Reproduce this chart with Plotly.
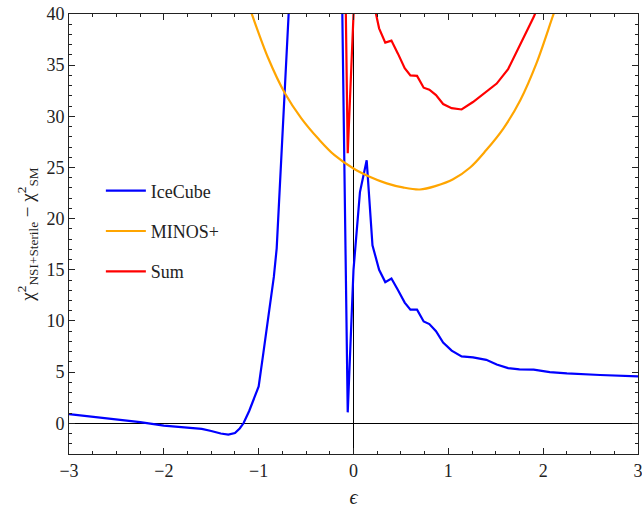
import plotly.graph_objects as go

# IceCube
ice_x = [-3.0, -2.75, -2.5, -2.25, -2.0, -1.75, -1.6, -1.5, -1.4, -1.32, -1.25, -1.2, -1.16,
         -1.1, -1.05, -1.0, -0.95, -0.90, -0.87, -0.84, -0.81, -0.75, -0.72, -0.68, -0.64,
         -0.5, -0.3, -0.18, -0.12, -0.061, 0.0, 0.068, 0.139, 0.20, 0.27, 0.335, 0.40, 0.47,
         0.54, 0.60, 0.67, 0.74, 0.80, 0.87, 0.945, 1.035, 1.14, 1.26, 1.40, 1.51, 1.63, 1.75,
         1.90, 2.07, 2.25, 2.6, 3.0]
ice_y = [0.9, 0.65, 0.38, 0.12, -0.22, -0.42, -0.55, -0.75, -1.0, -1.1, -0.95, -0.5, 0.0,
         1.2, 2.5, 3.6, 6.9, 10.4, 12.1, 14.3, 17.1, 27.7, 32.5, 40.0, 48.0,
         65.0, 70.0, 58.0, 41.5, 1.07, 15.0, 22.6, 25.7, 17.4, 15.0, 13.8, 14.15, 13.0,
         11.8, 11.1, 11.1, 9.95, 9.7, 9.0, 7.9, 7.1, 6.54, 6.44, 6.2, 5.75, 5.4, 5.27,
         5.25, 5.0, 4.88, 4.72, 4.58]

# MINOS+
minos_x = [-1.15, -1.1, -0.9, -0.72, -0.55, -0.37, -0.2, 0.0, 0.17, 0.35, 0.52, 0.70,
           0.87, 1.05, 1.23, 1.40, 1.58, 1.76, 1.93, 2.11, 2.15]
minos_y = [41.9, 40.7, 35.7, 32.2, 29.8, 27.8, 26.2, 24.9, 24.1, 23.45, 23.05, 22.85,
           23.2, 23.85, 25.0, 26.7, 28.8, 31.6, 35.2, 40.0, 41.0]

# Sum
sum_x = [-0.18, -0.12, -0.061, 0.0, 0.068, 0.139, 0.20, 0.27, 0.335, 0.40, 0.47, 0.54, 0.60,
         0.67, 0.74, 0.80, 0.87, 0.945, 1.035, 1.14, 1.26, 1.40, 1.51, 1.63, 1.75, 1.90, 2.07]
sum_y = [84.0, 67.0, 26.4, 39.9, 47.3, 50.0, 41.6, 38.6, 37.2, 37.4, 36.1, 34.7, 34.0,
         33.95, 32.8, 32.6, 32.07, 31.2, 30.8, 30.67, 31.4, 32.4, 33.2, 34.6, 36.8, 39.7, 43.5]

FONT = "Liberation Serif"
INK = "#222"

fig = go.Figure()
fig.add_trace(go.Scatter(x=ice_x, y=ice_y, mode="lines", name="IceCube",
                         line=dict(color="#0000ff", width=2.2), legendgroup="a"))
fig.add_trace(go.Scatter(x=minos_x, y=minos_y, mode="lines", name="MINOS+",
                         line=dict(color="#ffa500", width=2.2, shape="spline", smoothing=1.0),
                         legendgroup="b"))
fig.add_trace(go.Scatter(x=sum_x, y=sum_y, mode="lines", name="Sum",
                         line=dict(color="#ff0000", width=2.2), legendgroup="c"))

axis_common = dict(
    showline=True, linecolor=INK, linewidth=1, mirror="allticks",
    ticks="inside", ticklen=6, tickwidth=1, tickcolor=INK,
    showgrid=False, zeroline=True, zerolinecolor="#000", zerolinewidth=1,
    tickfont=dict(family=FONT, size=18, color=INK), automargin=False,
    ticklabeloverflow="allow",
)

fig.update_xaxes(range=[-3, 3], dtick=1, tick0=0,
                 minor=dict(dtick=0.25, ticks="inside", ticklen=3, tickcolor=INK, showgrid=False),
                 title=dict(text="<i>ϵ</i>", font=dict(family=FONT, size=20, color=INK), standoff=12),
                 **axis_common)
fig.update_yaxes(range=[-3, 40], dtick=5, tick0=0,
                 minor=dict(dtick=1, ticks="inside", ticklen=3, tickcolor=INK, showgrid=False),
                 title=dict(text="χ<sup>2</sup><sub>NSI+Sterile</sub> − χ<sup>2</sup><sub>SM</sub>",
                            font=dict(family=FONT, size=19, color=INK), standoff=6),
                 **axis_common)

fig.update_layout(
    width=642, height=508,
    margin=dict(l=69, r=4, t=14, b=54),
    plot_bgcolor="white", paper_bgcolor="white",
    showlegend=True,
    legend=dict(x=0.056, y=0.64, xanchor="left", yanchor="top",
                bgcolor="rgba(0,0,0,0)", tracegroupgap=14, itemwidth=40,
                font=dict(family=FONT, size=18, color=INK)),
)

fig.write_html("out.html")
